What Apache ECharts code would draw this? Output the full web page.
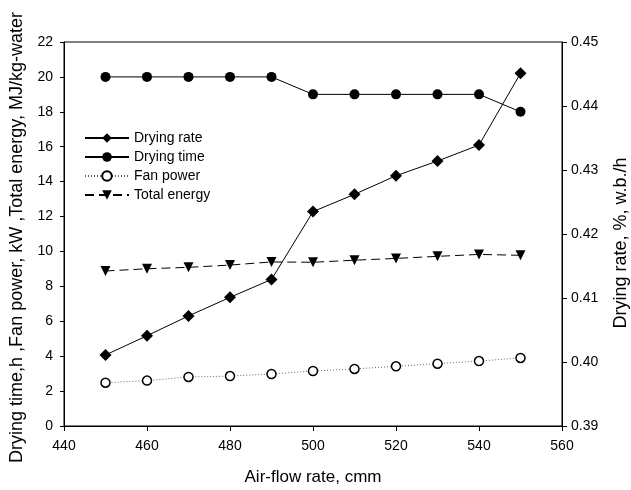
<!DOCTYPE html>
<html lang="en">
<head>
    <meta charset="UTF-8">
    <title>Air-flow rate</title>
    <script type="text/javascript" src="https://cdn.jsdelivr.net/npm/echarts@6/dist/echarts.min.js"></script>
    <style>body{margin:0;background:#fff}</style>
</head>
<body>
<div id="main" style="width: 631px;height: 490px"></div>
<script type="text/javascript">
    var airFlow = [450, 460, 470, 480, 490, 500, 510, 520, 530, 540, 550];
    // drying rate, %w.b./h (right axis)
    var dryingRate = [0.4011, 0.4041, 0.4072, 0.4101, 0.4129, 0.4235, 0.4262, 0.4291, 0.4314, 0.4339, 0.4451];
    var dryingTime = [20, 20, 20, 20, 20, 19, 19, 19, 19, 19, 18];
    var fanPower = [2.48, 2.60, 2.81, 2.86, 2.98, 3.15, 3.27, 3.42, 3.57, 3.72, 3.90];
    var totalEnergy = [8.88, 9.01, 9.09, 9.22, 9.40, 9.38, 9.50, 9.60, 9.72, 9.83, 9.78];

    function pairs(ys) {
        var out = [];
        for (var i = 0; i < airFlow.length; i++) {
            out.push([airFlow[i], ys[i]]);
        }
        return out;
    }

    var font = 'Liberation Sans, Arial, sans-serif';
    var chart = echarts.init(document.getElementById('main'));
    var option = {
        animation: false,
        textStyle: {fontFamily: font, color: '#000'},
        grid: {
            left: 64, right: 69, top: 42, bottom: 64,
            outerBoundsMode: 'none',
            show: true, borderColor: '#000', borderWidth: 1
        },
        legend: {
            orient: 'vertical',
            left: 84,
            top: 131,
            padding: 0,
            itemWidth: 44,
            itemHeight: 12,
            itemGap: 5,
            textStyle: {fontFamily: font, fontSize: 14, color: '#000'},
            data: ['Drying rate', 'Drying time', 'Fan power', 'Total energy']
        },
        xAxis: {
            type: 'value',
            min: 440, max: 560, interval: 20,
            name: 'Air-flow rate, cmm',
            nameLocation: 'middle',
            nameGap: 43,
            nameTextStyle: {fontSize: 17, color: '#000'},
            axisLine: {lineStyle: {color: '#000'}},
            axisTick: {lineStyle: {color: '#000'}, length: 5},
            axisLabel: {color: '#000', fontSize: 14, margin: 13},
            splitLine: {show: false}
        },
        yAxis: [{
            type: 'value',
            min: 0, max: 22, interval: 2,
            name: 'Drying time,h ,Fan power, kW ,Total energy, MJ/kg-water',
            nameLocation: 'middle',
            nameGap: 38,
            nameTextStyle: {fontSize: 18, color: '#000', padding: [0, 7, 0, 0]},
            axisLine: {show: true, lineStyle: {color: '#000'}},
            axisTick: {show: true, lineStyle: {color: '#000'}, length: 4},
            axisLabel: {color: '#000', fontSize: 14, margin: 11},
            splitLine: {show: false}
        }, {
            type: 'value',
            min: 0.39, max: 0.45, interval: 0.01,
            name: 'Drying rate, %, w.b./h',
            nameLocation: 'middle',
            nameGap: 50,
            nameRotate: 90,
            nameTextStyle: {fontSize: 18, color: '#000', padding: [0, 18, 0, 0]},
            axisLine: {show: true, lineStyle: {color: '#000'}},
            axisTick: {show: true, lineStyle: {color: '#000'}, length: 5},
            axisLabel: {color: '#000', fontSize: 14, margin: 9, formatter: function (v) { return v.toFixed(2); }},
            splitLine: {show: false}
        }],
        series: [{
            name: 'Drying rate',
            type: 'line',
            yAxisIndex: 1,
            data: pairs(dryingRate),
            symbol: 'diamond',
            symbolSize: 12,
            itemStyle: {color: '#000'},
            lineStyle: {color: '#000', width: 1}
        }, {
            name: 'Drying time',
            type: 'line',
            data: pairs(dryingTime),
            symbol: 'circle',
            symbolSize: 10,
            itemStyle: {color: '#000'},
            lineStyle: {color: '#000', width: 1}
        }, {
            name: 'Fan power',
            type: 'line',
            data: pairs(fanPower),
            symbol: 'circle',
            symbolSize: 9,
            itemStyle: {color: '#fff', borderColor: '#000', borderWidth: 1.5},
            lineStyle: {color: '#666', width: 1, type: [1, 2]}
        }, {
            name: 'Total energy',
            type: 'line',
            data: pairs(totalEnergy),
            symbol: 'triangle',
            symbolRotate: 180,
            symbolSize: 10,
            itemStyle: {color: '#000'},
            lineStyle: {color: '#000', width: 1, type: [9, 5]}
        }]
    };
    option && chart.setOption(option);
</script>
</body>
</html>
